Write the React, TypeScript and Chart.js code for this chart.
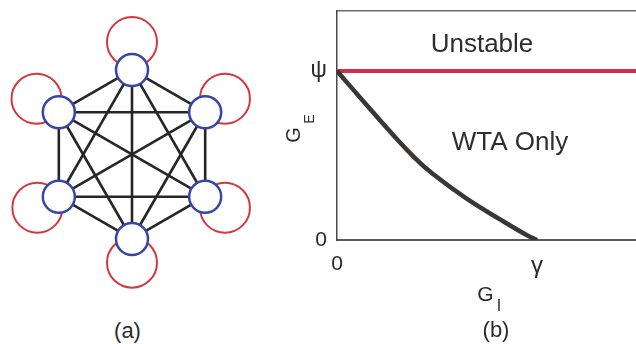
import React, { useEffect, useRef } from 'react';
import { Chart, registerables } from 'chart.js';
Chart.register(...registerables);

const FONT = '"Liberation Sans", Arial, Helvetica, sans-serif';

// ---- panel (a): fully connected network of six units ----
const nodeX = [0, 0.866, 0.866, 0, -0.866, -0.866];
const nodeY = [1, 0.5, -0.5, -1, -0.5, 0.5];
const loopX = [0, 1.1, 1.1, 0, -1.12, -1.13];
const loopY = [1.33, 0.66, -0.63, -1.28, -0.63, 0.66];

// ---- panel (b): stability regions ----
const curveX = [0, 0.125, 0.255, 0.39, 0.48, 0.65, 0.815, 0.95, 1.0];
const curveY = [1, 0.83, 0.655, 0.485, 0.39, 0.243, 0.122, 0.028, 0];
const thresholdX = [0, 1.6];
const thresholdY = [1, 1];
const xTickValues = [0, 1];
const xTickLabels = ['0', 'γ'];
const yTickValues = [0, 1];
const yTickLabels = ['0', 'ψ'];
const regionNames = ['Unstable', 'WTA Only'];
const regionX = [0.725, 0.865];
const regionY = [1.112, 0.533];

const regionLabelPlugin = {
  id: 'regionLabels',
  afterDatasetsDraw(chart: any) {
    const { ctx, scales } = chart;
    ctx.save();
    ctx.font = `26px ${FONT}`;
    ctx.fillStyle = '#2e2e2e';
    ctx.textAlign = 'center';
    ctx.textBaseline = 'alphabetic';
    regionNames.forEach((name, i) => {
      ctx.fillText(name, scales.x.getPixelForValue(regionX[i]), scales.y.getPixelForValue(regionY[i]));
    });
    ctx.restore();
  },
};

export default function App() {
  const refA = useRef<HTMLCanvasElement>(null);
  const refB = useRef<HTMLCanvasElement>(null);

  useEffect(() => {
    const nodes = nodeX.map((x, i) => ({ x, y: nodeY[i] }));
    const loops = loopX.map((x, i) => ({ x, y: loopY[i] }));
    const edges: any[] = [];
    for (let i = 0; i < nodes.length; i++) {
      for (let j = i + 1; j < nodes.length; j++) {
        edges.push({
          data: [nodes[i], nodes[j]],
          showLine: true,
          borderColor: '#262626',
          borderWidth: 2.6,
          pointRadius: 0,
          order: 1,
          clip: false,
        });
      }
    }

    const a = new Chart(refA.current!, {
      type: 'scatter',
      data: {
        datasets: [
          {
            data: nodes,
            pointRadius: 16,
            pointHoverRadius: 16,
            pointBorderWidth: 2.5,
            pointBorderColor: '#3546a8',
            pointBackgroundColor: '#ffffff',
            order: 0,
            clip: false,
          } as any,
          ...edges,
          {
            data: loops,
            pointRadius: 25,
            pointHoverRadius: 25,
            pointBorderWidth: 2,
            pointBorderColor: '#d4383f',
            pointBackgroundColor: 'rgba(0,0,0,0)',
            order: 2,
            clip: false,
          } as any,
        ],
      },
      options: {
        animation: false,
        responsive: false,
        events: [],
        layout: { padding: 0, autoPadding: false },
        plugins: { legend: { display: false }, tooltip: { enabled: false } },
        scales: {
          x: { type: 'linear', display: false, min: -1.562, max: 1.633 },
          y: { type: 'linear', display: false, min: -1.722, max: 1.828 },
        },
      },
    });

    const b = new Chart(refB.current!, {
      type: 'scatter',
      data: {
        datasets: [
          {
            data: curveX.map((x, i) => ({ x, y: curveY[i] })),
            showLine: true,
            borderColor: '#3b3636',
            borderWidth: 4.5,
            pointRadius: 0,
            tension: 0.4,
            order: 0,
          } as any,
          {
            data: thresholdX.map((x, i) => ({ x, y: thresholdY[i] })),
            showLine: true,
            borderColor: '#d0304c',
            borderWidth: 4,
            pointRadius: 0,
            order: 1,
          } as any,
        ],
      },
      options: {
        animation: false,
        responsive: false,
        events: [],
        layout: { padding: { top: 11, left: 0, right: 0, bottom: 0 }, autoPadding: false },
        plugins: { legend: { display: false }, tooltip: { enabled: false } },
        scales: {
          x: {
            type: 'linear',
            position: 'bottom',
            min: 0,
            max: 1.495,
            grid: { display: false, drawTicks: false },
            border: { display: true, color: '#5a5a5a', width: 2 },
            afterBuildTicks: (s: any) => {
              s.ticks = xTickValues.map((v) => ({ value: v }));
            },
            afterFit: (s: any) => {
              s.height = 104;
              s.paddingLeft = 0;
              s.paddingRight = 0;
            },
            ticks: {
              autoSkip: false,
              maxRotation: 0,
              padding: 12,
              color: '#2b2b2b',
              font: (c: any) => ({ family: FONT, size: c.tick && c.tick.value === 1 ? 24 : 21 }),
              callback: (v: any) => xTickLabels[xTickValues.indexOf(Number(v))],
            },
          },
          xTop: {
            type: 'linear',
            position: 'top',
            min: 0,
            max: 1.495,
            grid: { display: false, drawTicks: false },
            ticks: { display: false },
            border: { display: true, color: '#6a6a6a', width: 1.5 },
            afterFit: (s: any) => {
              s.height = 0;
            },
          },
          y: {
            type: 'linear',
            position: 'left',
            min: 0,
            max: 1.355,
            grid: { display: false, drawTicks: false },
            border: { display: true, color: '#4a4a4a', width: 1.5 },
            afterBuildTicks: (s: any) => {
              s.ticks = yTickValues.map((v) => ({ value: v }));
            },
            afterFit: (s: any) => {
              s.width = 57;
              s.paddingTop = 0;
              s.paddingBottom = 0;
            },
            ticks: {
              autoSkip: false,
              padding: 10,
              color: '#2b2b2b',
              font: (c: any) => ({ family: FONT, size: c.tick && c.tick.value === 1 ? 23 : 21 }),
              callback: (v: any) => yTickLabels[yTickValues.indexOf(Number(v))],
            },
          },
        },
      },
      plugins: [regionLabelPlugin],
    });

    return () => {
      a.destroy();
      b.destroy();
    };
  }, []);

  const centered = (x: number, y: number, size: number, extra: any = {}) => ({
    position: 'absolute' as const,
    left: x,
    top: y,
    fontSize: size,
    lineHeight: 1,
    whiteSpace: 'nowrap' as const,
    transform: 'translate(-50%, -50%)',
    ...extra,
  });

  return (
    <div
      style={{
        position: 'absolute',
        left: 0,
        top: 0,
        width: 636,
        height: 344,
        overflow: 'hidden',
        background: '#ffffff',
        fontFamily: FONT,
        color: '#2b2b2b',
      }}
    >
      <canvas ref={refA} width={270} height={300} style={{ position: 'absolute', left: 0, top: 0 }} />
      <canvas ref={refB} width={356} height={344} style={{ position: 'absolute', left: 280, top: 0 }} />
      <div style={centered(292.5, 134.5, 20, { transform: 'translate(-50%, -50%) rotate(-90deg)' })}>G</div>
      <div style={centered(309, 119, 14, { transform: 'translate(-50%, -50%) rotate(-90deg)' })}>E</div>
      <div style={centered(485.5, 292.5, 21)}>G</div>
      <div style={centered(499, 306, 16)}>I</div>
      <div style={centered(127.5, 330.6, 22)}>(a)</div>
      <div style={centered(496, 329.5, 22)}>(b)</div>
    </div>
  );
}
